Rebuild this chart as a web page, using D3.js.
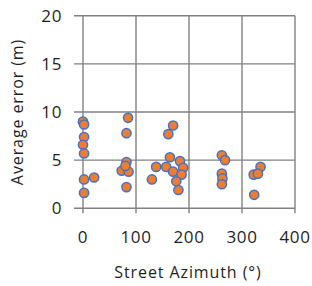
<!DOCTYPE html>
<html>
<head>
<meta charset="utf-8">
<script src="https://cdn.jsdelivr.net/npm/d3@7"></script>
<style>
  body { margin: 0; background: #fff; }
  text { font-family: "Open Sans", sans-serif; fill: #1f1f1f; }
</style>
</head>
<body>
<script>
var w = 312;
var h = 286;

// street azimuth (deg) and average error (m)
var azimuth = [0, 2, 2, 0, 2, 2, 21, 2,
               85, 82, 82, 73, 86, 80, 82,
               130, 138, 157, 164, 161, 170, 183, 189, 170, 186, 176, 180,
               262, 268, 262, 263, 262,
               335, 322, 330, 323];
var avgError = [9.0, 8.7, 7.4, 6.6, 5.7, 3.0, 3.2, 1.6,
                9.4, 7.8, 4.8, 3.9, 3.8, 4.4, 2.2,
                3.0, 4.3, 4.3, 5.3, 7.7, 8.6, 4.9, 4.2, 3.8, 3.5, 2.8, 1.9,
                5.5, 5.0, 3.6, 3.1, 2.5,
                4.3, 3.5, 3.6, 1.4];

var xTicks = [0, 100, 200, 300, 400];
var yTicks = [0, 5, 10, 15, 20];

var points = azimuth.map(function(a, i) { return {x: a, y: avgError[i]}; });

//svg container
var svg = d3.select("body").append("svg")
            .attr("width", w)
            .attr("height", h);

var x = d3.scaleLinear().domain([0, 400]).range([83, 295]);
var y = d3.scaleLinear().domain([0, 20]).range([208.3, 15.7]);

var gridColor = "#828282";

// gridlines
svg.append("g").selectAll("line")
   .data(yTicks).enter().append("line")
   .attr("x1", 74).attr("x2", x(400))
   .attr("y1", function(d){return y(d);})
   .attr("y2", function(d){return y(d);})
   .style("stroke", gridColor)
   .style("stroke-width", 1.4);

svg.append("g").selectAll("line")
   .data(xTicks).enter().append("line")
   .attr("x1", function(d){return x(d);})
   .attr("x2", function(d){return x(d);})
   .attr("y1", y(20)).attr("y2", y(0) + 5)
   .style("stroke", gridColor)
   .style("stroke-width", 1.4);

// tick labels
svg.append("g").selectAll("text")
   .data(yTicks).enter().append("text")
   .attr("x", 62)
   .attr("y", function(d){return y(d) + 6;})
   .attr("text-anchor", "end")
   .style("font-size", "17px")
   .style("letter-spacing", "0.6px")
   .text(function(d){return d;});

svg.append("g").selectAll("text")
   .data(xTicks).enter().append("text")
   .attr("x", function(d){return x(d);})
   .attr("y", 243)
   .attr("text-anchor", "middle")
   .style("font-size", "17px")
   .style("letter-spacing", "0.6px")
   .text(function(d){return d;});

// axis titles
svg.append("text")
   .attr("x", 188)
   .attr("y", 278)
   .attr("text-anchor", "middle")
   .style("font-size", "16px")
   .style("letter-spacing", "0.9px")
   .text("Street Azimuth (°)");

svg.append("text")
   .attr("transform", "translate(23,112) rotate(-90)")
   .attr("text-anchor", "middle")
   .style("font-size", "16px")
   .style("letter-spacing", "0.9px")
   .text("Average error (m)");

// points
svg.append("g").selectAll("circle")
   .data(points).enter().append("circle")
   .attr("cx", function(d){return x(d.x);})
   .attr("cy", function(d){return y(d.y);})
   .attr("r", 4.6)
   .style("fill", "#ed7d31")
   .style("stroke", "#4472c4")
   .style("stroke-width", 1.5);
</script>
</body>
</html>
